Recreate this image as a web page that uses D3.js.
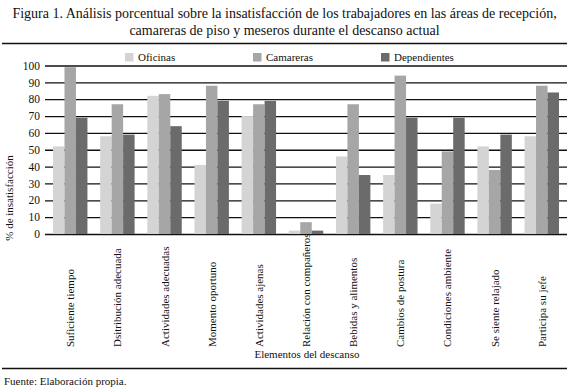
<!DOCTYPE html>
<html lang="es">
<head>
  <meta charset="UTF-8">
  <title>Figura 1</title>
  <script src="https://d3js.org/d3.v7.min.js"></script>
  <style>
    body { margin: 0; background: #fff; }
    svg { font-family: "Liberation Serif", "DejaVu Serif", serif; }
    svg text { fill: #111; }
  </style>
</head>
<body>
  <svg width="569" height="390" font-family="Liberation Serif, DejaVu Serif, serif"></svg>

  <script>
    const width = 569, height = 390;
    const svg = d3.select("svg");
    const FONT = "'Liberation Serif', 'DejaVu Serif', serif";

    // data
    const categories = ["Suficiente tiempo", "Dsitribución adecuada", "Actividades adecuadas",
      "Momento oportuno", "Actividades ajenas", "Relación con compañeros", "Bebidas y alimentos",
      "Cambios de postura", "Condiciones ambiente", "Se siente relajado", "Participa su jefe"];
    const series = ["Oficinas", "Camareras", "Dependientes"];
    const oficinas     = [52, 58, 82, 41, 70, 2, 46, 35, 18, 52, 58];
    const camareras    = [99, 77, 83, 88, 77, 7, 77, 94, 49, 38, 88];
    const dependientes = [69, 59, 64, 79, 79, 2, 35, 69, 69, 59, 84];
    const yTicks = d3.range(0, 101, 10);
    const colors = ["#d4d4d4", "#a6a6a6", "#6b6b6b"];

    const rows = categories.map((c, i) => ({
      cat: c, values: [oficinas[i], camareras[i], dependientes[i]]
    }));

    const x0 = d3.scaleBand().domain(categories).range([45, 567])
      .paddingInner(0.27).paddingOuter(0.17);
    const x1 = d3.scaleBand().domain(series).range([0, x0.bandwidth()]);
    const y = d3.scaleLinear().domain([0, 100]).range([234, 65.5]);
    const color = d3.scaleOrdinal().domain(series).range(colors);

    function label(sel, size) {
      return sel.style("font-family", FONT).style("font-size", size + "px");
    }

    // title
    label(svg.append("text"), 14).attr("x", width / 2).attr("y", 18).attr("text-anchor", "middle")
      .text("Figura 1. Análisis porcentual sobre la insatisfacción de los trabajadores en las áreas de recepción,");
    label(svg.append("text"), 14).attr("x", width / 2).attr("y", 35).attr("text-anchor", "middle")
      .text("camareras de piso y meseros durante el descanso actual");

    svg.append("line").attr("x1", 2).attr("x2", 567).attr("y1", 43.5).attr("y2", 43.5)
      .attr("stroke", "#111").attr("stroke-width", 1.3);

    // legend
    const legendX = [125, 253, 381];
    series.forEach((s, i) => {
      svg.append("rect").attr("x", legendX[i]).attr("y", 53).attr("width", 8.5).attr("height", 8.5)
        .attr("fill", color(s));
      label(svg.append("text"), 11).attr("x", legendX[i] + 13).attr("y", 61).text(s);
    });

    // grid / y axis
    const yAxis = d3.axisLeft(y).tickValues(yTicks).tickSize(-(567 - 45)).tickPadding(5);
    const gy = svg.append("g").attr("transform", "translate(45,0)").call(yAxis);
    gy.attr("font-family", null);
    gy.select(".domain").remove();
    gy.selectAll(".tick line").attr("stroke", "#111").attr("stroke-width", 1.3);
    label(gy.selectAll(".tick text"), 11.5).attr("fill", "#111");

    // bars
    svg.append("g").selectAll("g")
      .data(rows).enter().append("g")
      .attr("transform", d => `translate(${x0(d.cat)},0)`)
      .selectAll("rect")
      .data(d => d.values.map((v, i) => ({ key: series[i], value: v })))
      .enter().append("rect")
      .attr("x", d => x1(d.key))
      .attr("y", d => y(d.value))
      .attr("width", x1.bandwidth())
      .attr("height", d => y(0) - y(d.value))
      .attr("fill", d => color(d.key));

    // category labels, rotated, bottom-aligned
    label(svg.append("g").selectAll("text")
      .data(categories).enter().append("text"), 11)
      .attr("transform", d => `translate(${x0(d) + x0.bandwidth() / 2 + 4},347) rotate(-90)`)
      .attr("text-anchor", "start")
      .text(d => d);

    // axis titles
    label(svg.append("text"), 11).attr("transform", "translate(13,198) rotate(-90)")
      .attr("text-anchor", "middle").text("% de insatisfacción");
    label(svg.append("text"), 11).attr("x", 307).attr("y", 358).attr("text-anchor", "middle")
      .text("Elementos del descanso");

    svg.append("line").attr("x1", 2).attr("x2", 567).attr("y1", 368.5).attr("y2", 368.5)
      .attr("stroke", "#111").attr("stroke-width", 1.3);
    label(svg.append("text"), 11).attr("x", 4).attr("y", 385).text("Fuente: Elaboración propia.");
  </script>
</body>
</html>
